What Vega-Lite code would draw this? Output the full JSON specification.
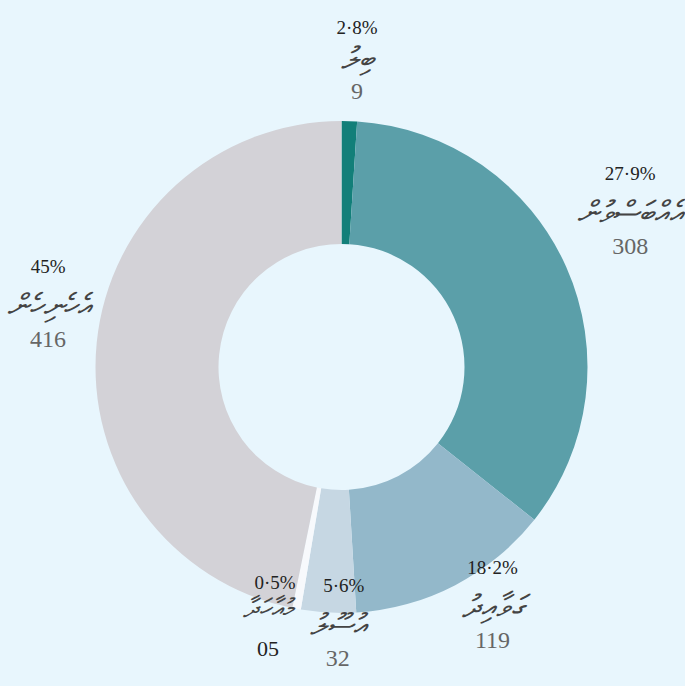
{
  "$schema": "https://vega.github.io/schema/vega-lite/v6.json",
  "width": 683,
  "height": 640,
  "autosize": "none",
  "padding": {"top": 47, "bottom": 0, "left": 0, "right": 2},
  "background": "#e8f6fd",
  "view": {"stroke": null},
  "data": {
    "values": [
      {"order": 1, "name": "ބިލު", "count": 9, "countLabel": "9", "pct": "2·8%"},
      {"order": 2, "name": "އެއްބަސްވުން", "count": 308, "countLabel": "308", "pct": "27·9%"},
      {"order": 3, "name": "ގަވާއިދު", "count": 119, "countLabel": "119", "pct": "18·2%"},
      {"order": 4, "name": "އުސޫލު", "count": 32, "countLabel": "32", "pct": "5·6%"},
      {"order": 5, "name": "މުއާހަދާ", "count": 5, "countLabel": "05", "pct": "0·5%"},
      {"order": 6, "name": "އެހެނިހެން", "count": 416, "countLabel": "416", "pct": "45%"}
    ]
  },
  "encoding": {
    "theta": {"field": "count", "type": "quantitative", "stack": true},
    "order": {"field": "order", "type": "quantitative"}
  },
  "layer": [
    {
      "mark": {"type": "arc", "radius": 246, "radius2": 123},
      "encoding": {
        "color": {
          "field": "name",
          "type": "nominal",
          "scale": {
            "domain": ["ބިލު", "އެއްބަސްވުން", "ގަވާއިދު", "އުސޫލު", "މުއާހަދާ", "އެހެނިހެން"],
            "range": ["#127f79", "#5b9fa9", "#93b8ca", "#c6d7e3", "#f7f9fc", "#d3d2d7"]
          },
          "legend": null
        }
      }
    },
    {
      "mark": {"type": "text", "radius": 305, "dx": 10, "dy": -69, "font": "Liberation Serif", "fontSize": 19, "color": "#222222"},
      "encoding": {"text": {"condition": {"test": "datum.order == 1 || datum.order == 4 || datum.order == 5", "value": ""}, "field": "pct"}}
    },
    {
      "mark": {"type": "text", "radius": 305, "dx": 10, "dy": -29, "font": "DejaVu Sans", "fontStyle": "italic", "fontSize": 31, "color": "#444444"},
      "encoding": {"text": {"condition": {"test": "datum.order == 1 || datum.order == 4 || datum.order == 5", "value": ""}, "field": "name"}}
    },
    {
      "mark": {"type": "text", "radius": 305, "dx": 10, "dy": 4, "font": "Liberation Serif", "fontSize": 24, "color": "#666666"},
      "encoding": {"text": {"condition": {"test": "datum.order == 1 || datum.order == 4 || datum.order == 5", "value": ""}, "field": "countLabel"}}
    },
    {
      "mark": {"type": "text", "radius": 300, "dx": 6, "dy": -39, "font": "Liberation Serif", "fontSize": 19, "color": "#222222"},
      "encoding": {"text": {"condition": {"test": "datum.order == 1", "field": "pct"}, "value": ""}}
    },
    {
      "mark": {"type": "text", "radius": 300, "dx": 6, "dy": -7, "font": "DejaVu Sans", "fontStyle": "italic", "fontSize": 31, "color": "#444444"},
      "encoding": {"text": {"condition": {"test": "datum.order == 1", "field": "name"}, "value": ""}}
    },
    {
      "mark": {"type": "text", "radius": 300, "dx": 6, "dy": 25, "font": "Liberation Serif", "fontSize": 24, "color": "#666666"},
      "encoding": {"text": {"condition": {"test": "datum.order == 1", "field": "countLabel"}, "value": ""}}
    },
    {
      "mark": {"type": "text", "radius": 259, "dx": 16, "dy": -40, "font": "Liberation Serif", "fontSize": 19, "color": "#222222"},
      "encoding": {"text": {"condition": {"test": "datum.order == 4", "field": "pct"}, "value": ""}}
    },
    {
      "mark": {"type": "text", "radius": 259, "dx": 10, "dy": 0, "font": "DejaVu Sans", "fontStyle": "italic", "fontSize": 30, "color": "#444444"},
      "encoding": {"text": {"condition": {"test": "datum.order == 4", "field": "name"}, "value": ""}}
    },
    {
      "mark": {"type": "text", "radius": 259, "dx": 10, "dy": 33, "font": "Liberation Serif", "fontSize": 24, "color": "#666666"},
      "encoding": {"text": {"condition": {"test": "datum.order == 4", "field": "countLabel"}, "value": ""}}
    },
    {
      "mark": {"type": "text", "radius": 243, "dx": -22, "dy": -23, "font": "Liberation Serif", "fontSize": 19, "color": "#222222"},
      "encoding": {"text": {"condition": {"test": "datum.order == 5", "field": "pct"}, "value": ""}}
    },
    {
      "mark": {"type": "text", "radius": 243, "dx": -29, "dy": 3, "font": "DejaVu Sans", "fontStyle": "italic", "fontSize": 26, "color": "#444444"},
      "encoding": {"text": {"condition": {"test": "datum.order == 5", "field": "name"}, "value": ""}}
    },
    {
      "mark": {"type": "text", "radius": 243, "dx": -29, "dy": 43, "font": "Liberation Serif", "fontSize": 22, "color": "#222222"},
      "encoding": {"text": {"condition": {"test": "datum.order == 5", "field": "countLabel"}, "value": ""}}
    }
  ]
}
